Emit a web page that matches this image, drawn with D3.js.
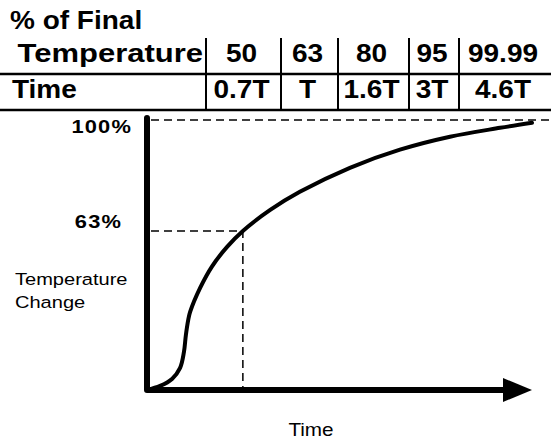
<!DOCTYPE html>
<html lang="en">
	<head>
		<meta charset="utf-8">
		<title>Time constant: temperature response</title>
		<script src="https://cdnjs.cloudflare.com/ajax/libs/d3/7.8.5/d3.min.js"></script>
		<style type="text/css">
			body { margin: 0; background: #fff; }
			text { font-family: "Liberation Sans", Arial, sans-serif; fill: #000; }
		</style>
	</head>
	<body>
		<div id="container"></div>
		<script type="text/javascript">

			// table: % of final temperature vs elapsed time (in time constants T)
			var tempPercent = ["50", "63", "80", "95", "99.99"];
			var timeConst = ["0.7T", "T", "1.6T", "3T", "4.6T"];

			// response curve (x: % of time axis, y: % of temperature axis)
			var curveX = [0, 3.4, 6.5, 8.6, 9.6, 10.1, 10.7, 11.2, 13.8, 16.9, 20.8, 24.9, 32.0, 39.7, 52.7, 65.7, 78.7, 91.7, 100];
			var curveY = [0, 1.5, 4.1, 8.2, 14.1, 20.4, 25.9, 28.9, 37.8, 45.8, 53.0, 58.9, 66.7, 73.4, 82.3, 89.0, 93.8, 97.1, 99.0];

			// reference levels drawn as dashed guides
			var levelLabels = ["100%", "63%"];
			var levelValues = [100, 58.9];
			var timeMark = 24.9;   // where the 63% guide meets the curve

			var width = 551;
			var height = 440;

			var svg = d3.select("div#container")
				.append("svg")
				.attr("width", width)
				.attr("height", height);

			var x = d3.scaleLinear().domain([0, 100]).range([147, 532]);
			var y = d3.scaleLinear().domain([0, 100]).range([390, 120]);

			// text that is a bit wider than the font gives
			function label(txt, px, py, opts) {
				var t = svg.append("text")
					.attr("transform", "translate(" + px + "," + py + ") scale(" + (opts.sx || 1) + ",1)")
					.attr("font-size", opts.size)
					.attr("font-weight", opts.bold ? "bold" : "normal")
					.attr("text-anchor", opts.anchor || "start")
					.text(txt);
				if (opts.spacing) t.attr("letter-spacing", opts.spacing);
				return t;
			}

			/* ---- table ---- */
			var colEdges = [206, 281, 338, 409, 459, 551];
			var rowBase = [62, 98];

			label("% of Final", 10, 29, {size: 25, bold: true, sx: 1.12});
			label("Temperature", 203, rowBase[0], {size: 25, bold: true, sx: 1.24, anchor: "end"});
			label("Time", 12, rowBase[1], {size: 25, bold: true, sx: 1.12});

			tempPercent.forEach(function(d, i) {
				var cx = (colEdges[i] + colEdges[i + 1]) / 2 - 2;
				label(d, cx, rowBase[0], {size: 25, bold: true, sx: 1.12, anchor: "middle"});
			});
			timeConst.forEach(function(d, i) {
				var cx = (colEdges[i] + colEdges[i + 1]) / 2 - 2;
				label(d, cx, rowBase[1], {size: 25, bold: true, sx: 1.12, anchor: "middle"});
			});

			svg.selectAll("line.sep")
				.data(colEdges.slice(0, 5))
				.enter().append("line")
					.attr("class", "sep")
					.attr("x1", function(d) { return d; })
					.attr("x2", function(d) { return d; })
					.attr("y1", 38)
					.attr("y2", 110)
					.attr("stroke", "#000")
					.attr("stroke-width", 2);

			svg.selectAll("line.rule")
				.data([74, 110])
				.enter().append("line")
					.attr("class", "rule")
					.attr("x1", 0)
					.attr("x2", width)
					.attr("y1", function(d) { return d; })
					.attr("y2", function(d) { return d; })
					.attr("stroke", "#000")
					.attr("stroke-width", 2.5);

			/* ---- dashed guides ---- */
			svg.append("line")
				.attr("x1", x(0) + 4).attr("x2", width)
				.attr("y1", y(levelValues[0])).attr("y2", y(levelValues[0]))
				.attr("stroke", "#000").attr("stroke-width", 1.5)
				.attr("stroke-dasharray", "8,5");

			svg.append("path")
				.attr("d", "M" + (x(0) + 4) + "," + y(levelValues[1]) +
					"L" + x(timeMark) + "," + y(levelValues[1]) +
					"L" + x(timeMark) + "," + y(0))
				.attr("fill", "none")
				.attr("stroke", "#000").attr("stroke-width", 1.5)
				.attr("stroke-dasharray", "8,5");

			label(levelLabels[0], 132, 133, {size: 19, bold: true, sx: 1.15, anchor: "end", spacing: 1});
			label(levelLabels[1], 122, 228, {size: 19, bold: true, sx: 1.15, anchor: "end", spacing: 1});

			/* ---- axes ---- */
			svg.append("path")
				.attr("d", "M" + x(0) + "," + (y(100) - 2) + "L" + x(0) + "," + y(0) + "L" + 505 + "," + y(0))
				.attr("fill", "none")
				.attr("stroke", "#000")
				.attr("stroke-width", 6)
				.attr("stroke-linejoin", "round")
				.attr("stroke-linecap", "round");

			svg.append("path")
				.attr("d", "M503," + (y(0) - 12) + "L" + x(100) + "," + y(0) + "L503," + (y(0) + 12) + "Z")
				.attr("fill", "#000");

			/* ---- curve ---- */
			var line = d3.line()
				.x(function(d) { return x(d[0]); })
				.y(function(d) { return y(d[1]); })
				.curve(d3.curveCatmullRom.alpha(0.5));

			svg.append("path")
				.datum(d3.zip(curveX, curveY))
				.attr("d", line)
				.attr("fill", "none")
				.attr("stroke", "#000")
				.attr("stroke-width", 4)
				.attr("stroke-linecap", "round");

			/* ---- axis titles ---- */
			label("Temperature", 15, 285, {size: 17, sx: 1.18});
			label("Change", 15, 308, {size: 17, sx: 1.18});
			label("Time", 311, 436, {size: 18, sx: 1.15, anchor: "middle"});

		</script>
	</body>
</html>
